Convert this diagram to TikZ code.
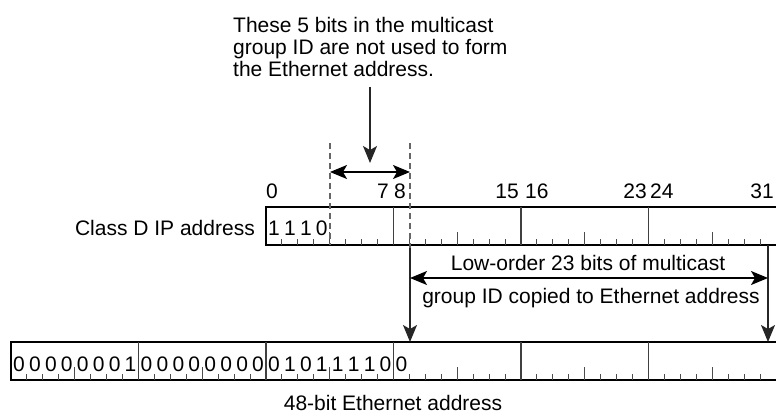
\documentclass[tikz,border=0pt]{standalone}
\usepackage{fontspec}
\setmainfont{Liberation Sans}
\usetikzlibrary{arrows.meta}
\begin{document}
\begin{tikzpicture}[x=1pt,y=-1pt,
  font=\fontsize{21}{25}\selectfont,
  box/.style={draw=black, line width=1.3pt},
  bytesep/.style={draw=black!75, line width=1.4pt},
  tickmark/.style={draw=black!70, line width=0.9pt},
  guide/.style={draw=black!60, dash pattern=on 6pt off 4pt, line width=1.1pt},
  tip/.tip={Stealth[length=17pt,width=14pt,inset=4pt]},
  arr/.style={draw=black!85, line width=1.4pt, -tip},
  darr/.style={draw=black, line width=1.4pt, tip-tip},
  txt/.style={inner sep=0pt, anchor=base},
  bit/.style={inner sep=0pt, anchor=base}]
\useasboundingbox (0,0) rectangle (776,413);
\def\bw{15.9375}
% ---- top row: Class D IP address
\draw[box] (266,207) rectangle (778,245);
\foreach \i in {1,...,31}{
  \pgfmathtruncatemacro\m{mod(\i,8)}
  \pgfmathtruncatemacro\q{mod(\i,4)}
  \ifnum\m=0
    \draw[bytesep] (266+\i*\bw,207) -- (266+\i*\bw,245);
  \else\ifnum\q=0
    \draw[tickmark] (266+\i*\bw,245) -- (266+\i*\bw,232);
  \else
    \draw[tickmark] (266+\i*\bw,245) -- (266+\i*\bw,239);
  \fi\fi
}
\foreach \d [count=\i from 0] in {1,1,1,0}
  \node[bit] (tb\i) at (266+\i*\bw+0.5*\bw,235) {\d};
\node[txt, anchor=base east] (ipl) at (255,235) {Class D IP address};
% bit numbers
\node[txt, anchor=base west] (n0) at (266,198) {0};
\node[txt, anchor=base east] (n7) at (389,198) {7};
\node[txt, anchor=base west] (n8) at (394,198) {8};
\node[txt, anchor=base east] (n15) at (519,198) {15};
\node[txt, anchor=base west] (n16) at (525,198) {16};
\node[txt, anchor=base east] (n23) at (647,198) {23};
\node[txt, anchor=base west] (n24) at (650,198) {24};
\node[txt, anchor=base east] (n31) at (774,198) {31};
% ---- bottom row: Ethernet address
\draw[box] (11,342) rectangle (778,380);
\foreach \i in {1,...,47}{
  \pgfmathtruncatemacro\m{mod(\i,8)}
  \pgfmathtruncatemacro\q{mod(\i,4)}
  \ifnum\m=0
    \draw[bytesep] (11+\i*\bw,342) -- (11+\i*\bw,380);
  \else\ifnum\q=0
    \draw[tickmark] (11+\i*\bw,380) -- (11+\i*\bw,367);
  \else
    \draw[tickmark] (11+\i*\bw,380) -- (11+\i*\bw,374);
  \fi\fi
}
\foreach \d [count=\i from 0] in {0,0,0,0,0,0,0,1,0,0,0,0,0,0,0,0,0,1,0,1,1,1,1,0,0}
  \node[bit] (eb\i) at (11+\i*\bw+0.5*\bw,371) {\d};
\node[txt] (ethl) at (393,410) {48-bit Ethernet address};
% ---- top annotation
\node[txt, anchor=base west] (c1) at (233,32) {These 5 bits in the multicast};
\node[txt, anchor=base west] (c2) at (233,54) {group ID are not used to form};
\node[txt, anchor=base west] (c3) at (233,76) {the Ethernet address.};
\coordinate (g1a) at (330,143); \coordinate (g1b) at (330,245);
\coordinate (g2a) at (410,143); \coordinate (g2b) at (410,248);
\draw[guide] (g1a) -- (g1b);
\draw[guide] (g2a) -- (g2b);
\coordinate (da) at (370,87); \coordinate (db) at (370,163);
\draw[arr] (da) -- (db);
\coordinate (ua) at (330,172); \coordinate (ub) at (410,172);
\draw[darr] (ua) -- (ub);
% ---- middle annotation
\coordinate (la) at (410,248); \coordinate (lb) at (410,342);
\coordinate (ra) at (768,245); \coordinate (rb) at (768,342);
\draw[arr] (la) -- (lb);
\draw[arr] (ra) -- (rb);
\coordinate (ma) at (410,278); \coordinate (mb) at (768,278);
\draw[darr] (ma) -- (mb);
\node[txt] (m1) at (588,270) {Low-order 23 bits of multicast};
\node[txt] (m2) at (591,303) {group ID copied to Ethernet address};
\end{tikzpicture}
\end{document}
